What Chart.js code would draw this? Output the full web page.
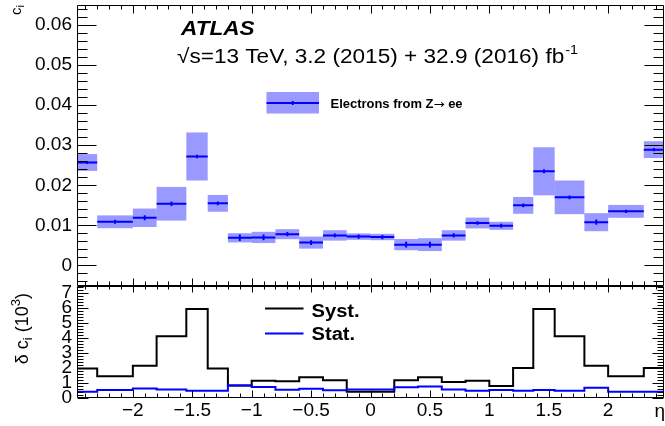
<!DOCTYPE html>
<html>
<head>
<meta charset="utf-8">
<script src="https://cdn.jsdelivr.net/npm/chart.js@4.4.0/dist/chart.umd.min.js"></script>
<style>
html, body { margin: 0; padding: 0; background: #fff; }
#wrap { position: relative; width: 665px; height: 426px; }
#wrap canvas { position: absolute; left: 0; top: 0; }
</style>
</head>
<body>
<div id="wrap">
  <canvas id="ratioChart" width="665" height="426"></canvas>
  <canvas id="mainChart" width="665" height="426"></canvas>
</div>
<script>
// eta bin edges
var etaEdges = [-2.47, -2.3, -2.0, -1.8, -1.55, -1.37, -1.2, -1.0, -0.8, -0.6, -0.4, -0.2, 0,
                0.2, 0.4, 0.6, 0.8, 1.0, 1.2, 1.37, 1.55, 1.8, 2.0, 2.3, 2.47];
// c_i per bin
var ciValues = [0.0257, 0.0109, 0.0119, 0.0154, 0.0272, 0.0155, 0.0069, 0.0070, 0.0078, 0.0057, 0.0075, 0.0072,
                0.0071, 0.0052, 0.0052, 0.0075, 0.0106, 0.0099, 0.0150, 0.0235, 0.0170, 0.0108, 0.0135, 0.0289];
// total uncertainty (band), in units of 1e-3
var ciTotErr = [2.1, 1.6, 2.3, 4.2, 6.0, 2.1, 1.15, 1.4, 1.25, 1.5, 1.3, 0.8,
                0.8, 1.4, 1.6, 1.3, 1.35, 1.0, 2.1, 6.0, 4.2, 2.25, 1.6, 2.1];
// lower panel, delta c_i (1e-3)
var systErr = [1.94, 1.43, 2.12, 4.1, 5.92, 1.94, 0.8, 1.13, 1.09, 1.35, 1.15, 0.38,
               0.38, 1.15, 1.35, 1.03, 1.12, 0.77, 1.97, 5.92, 4.1, 2.12, 1.43, 1.97];
var statErr = [0.39, 0.5, 0.61, 0.54, 0.46, 0.46, 0.8, 0.71, 0.52, 0.58, 0.49, 0.53,
               0.53, 0.69, 0.73, 0.54, 0.46, 0.5, 0.46, 0.5, 0.46, 0.66, 0.39, 0.39];

var etaTicks = [-2, -1.5, -1, -0.5, 0, 0.5, 1, 1.5, 2];
var etaTickLabels = ['\u22122', '\u22121.5', '\u22121', '\u22120.5', '0', '0.5', '1', '1.5', '2'];
var ciTicks = [0, 0.01, 0.02, 0.03, 0.04, 0.05, 0.06];
var ciTickLabels = ['0', '0.01', '0.02', '0.03', '0.04', '0.05', '0.06'];
var deltaTicks = [0, 1, 2, 3, 4, 5, 6, 7];
var deltaTickLabels = ['0', '1', '2', '3', '4', '5', '6', '7'];

var FONT = '"Liberation Sans", Arial, Helvetica, sans-serif';
var BLUE = '#0000ff';
var BAND = 'rgba(0,0,255,0.4)';

function tickList(min, max, step, majors) {
    var out = [];
    var n0 = Math.ceil(min / step - 1e-6), n1 = Math.floor(max / step + 1e-6);
    for (var k = n0; k <= n1; k++) {
        var v = +(k * step).toFixed(6);
        out.push({ v: v, major: majors.some(function(m) { return Math.abs(m - v) < 1e-6; }) });
    }
    return out;
}

function stretchText(ctx, txt, x, y, font, sx, color) {
    ctx.save();
    ctx.font = font;
    ctx.fillStyle = color || '#000';
    ctx.textAlign = 'left';
    ctx.textBaseline = 'alphabetic';
    ctx.translate(x, y);
    ctx.scale(sx, 1);
    ctx.fillText(txt, 0, 0);
    var w = ctx.measureText(txt).width * sx;
    ctx.restore();
    return w;
}

// rotated title made of pieces [text, size, shift]
function rotatedTitle(ctx, pieces, baseX, endY) {
    ctx.save();
    var total = 0;
    pieces.forEach(function(p) { ctx.font = p[1] + 'px ' + FONT; total += ctx.measureText(p[0]).width; });
    ctx.translate(baseX, endY + total);
    ctx.rotate(-Math.PI / 2);
    ctx.fillStyle = '#000';
    ctx.textBaseline = 'alphabetic';
    var x = 0;
    pieces.forEach(function(p) {
        ctx.font = p[1] + 'px ' + FONT;
        ctx.fillText(p[0], x, p[2]);
        x += ctx.measureText(p[0]).width;
    });
    ctx.restore();
}

// ROOT style frame with inward ticks on all sides
var rootFrame = {
    id: 'rootFrame',
    afterDraw: function(chart, args, o) {
        var ctx = chart.ctx, a = chart.chartArea, xs = chart.scales.x, ys = chart.scales.y;
        var L = Math.round(a.left) + 0.5, R = Math.round(a.right) - 0.5;
        var T = Math.round(a.top) + 0.5, B = Math.round(a.bottom) - 0.5;
        ctx.save();
        ctx.strokeStyle = '#000';
        ctx.lineWidth = 1;
        ctx.beginPath();
        o.xTicks.forEach(function(t) {
            var px = Math.round(xs.getPixelForValue(t.v)) + 0.5;
            var lt = t.major ? o.xTop[0] : o.xTop[1];
            var lb = t.major ? o.xBot[0] : o.xBot[1];
            ctx.moveTo(px, T); ctx.lineTo(px, T + lt);
            ctx.moveTo(px, B); ctx.lineTo(px, B - lb);
        });
        o.yTicks.forEach(function(t) {
            var py = Math.round(ys.getPixelForValue(t.v)) + 0.5;
            var len = t.major ? o.yLen[0] : o.yLen[1];
            ctx.moveTo(L, py); ctx.lineTo(L + len, py);
            ctx.moveTo(R, py); ctx.lineTo(R - len, py);
        });
        ctx.rect(L, T, R - L, B - T);
        ctx.stroke();
        ctx.restore();
    }
};

// total-uncertainty bands and stat error bars of the upper panel
var bandPlugin = {
    id: 'bands',
    beforeDatasetsDraw: function(chart) {
        var ctx = chart.ctx, xs = chart.scales.x, ys = chart.scales.y, a = chart.chartArea;
        ctx.save();
        ctx.beginPath();
        ctx.rect(a.left, a.top, a.right - a.left, a.bottom - a.top);
        ctx.clip();
        ctx.fillStyle = BAND;
        ciValues.forEach(function(v, i) {
            var x0 = xs.getPixelForValue(etaEdges[i]), x1 = xs.getPixelForValue(etaEdges[i + 1]);
            var y0 = ys.getPixelForValue(v + ciTotErr[i] * 1e-3), y1 = ys.getPixelForValue(v - ciTotErr[i] * 1e-3);
            ctx.fillRect(x0, y0, x1 - x0, y1 - y0);
        });
        ctx.restore();
    },
    afterDatasetsDraw: function(chart) {
        var ctx = chart.ctx, xs = chart.scales.x, ys = chart.scales.y;
        ctx.save();
        ctx.strokeStyle = BLUE;
        ctx.lineWidth = 2;
        ctx.beginPath();
        ciValues.forEach(function(v, i) {
            var xc = xs.getPixelForValue((etaEdges[i] + etaEdges[i + 1]) / 2);
            ctx.moveTo(xc, ys.getPixelForValue(v + statErr[i] * 1e-3));
            ctx.lineTo(xc, ys.getPixelForValue(v - statErr[i] * 1e-3));
        });
        ctx.stroke();
        ctx.restore();
    }
};

var mainText = {
    id: 'mainText',
    afterDraw: function(chart) {
        var ctx = chart.ctx;
        stretchText(ctx, 'ATLAS', 181, 35, 'bold italic 20px ' + FONT, 1.13);
        var w = stretchText(ctx, '\u221As=13 TeV, 3.2 (2015) + 32.9 (2016) fb', 177, 63, '20px ' + FONT, 1.13);
        stretchText(ctx, '-1', 177 + w + 1, 54, '13px ' + FONT, 1.1);
        // legend
        ctx.save();
        ctx.fillStyle = BAND;
        ctx.fillRect(266.5, 92, 52.5, 21.5);
        ctx.strokeStyle = BLUE;
        ctx.lineWidth = 2;
        ctx.beginPath();
        ctx.moveTo(266.5, 103); ctx.lineTo(319, 103);
        ctx.moveTo(292.75, 101); ctx.lineTo(292.75, 105);
        ctx.stroke();
        ctx.restore();
        var lx = 330.5;
        lx += stretchText(ctx, 'Electrons from Z', lx, 107.5, 'bold 12px ' + FONT, 1.08);
        lx += stretchText(ctx, '\u2192', lx, 107.5, '12px "DejaVu Sans", sans-serif', 1.1);
        stretchText(ctx, ' ee', lx, 107.5, 'bold 12px ' + FONT, 1.08);
        rotatedTitle(ctx, [['c', 15, 0], ['i', 11, 3]], 20.5, 5);
    }
};

var ratioText = {
    id: 'ratioText',
    afterDraw: function(chart) {
        var ctx = chart.ctx;
        ctx.save();
        ctx.lineWidth = 2;
        ctx.strokeStyle = '#000';
        ctx.beginPath(); ctx.moveTo(265, 308.5); ctx.lineTo(303.5, 308.5); ctx.stroke();
        ctx.strokeStyle = BLUE;
        ctx.beginPath(); ctx.moveTo(265, 333.5); ctx.lineTo(303.5, 333.5); ctx.stroke();
        ctx.restore();
        stretchText(ctx, 'Syst.', 311.5, 317, 'bold 18px ' + FONT, 1.12);
        stretchText(ctx, 'Stat.', 311.5, 339.5, 'bold 18px ' + FONT, 1.12);
        rotatedTitle(ctx, [['\u03B4 c', 18, 0], ['i', 13, 4], [' (10', 18, 0], ['3', 13, -8], [')', 18, 0]], 28, 293);
        ctx.save();
        ctx.font = '19px ' + FONT;
        ctx.fillStyle = '#000';
        ctx.textAlign = 'right';
        ctx.fillText('\u03B7', 665, 417);
        ctx.restore();
    }
};

function fixedTicks(values) {
    return function(s) { s.ticks = values.map(function(v) { return { value: v }; }); };
}
function noPad(size, horizontal) {
    return function(s) {
        if (horizontal) s.height = size; else s.width = size;
        s.paddingTop = 0; s.paddingBottom = 0; s.paddingLeft = 0; s.paddingRight = 0;
    };
}
function tickFont() {
    return { color: '#000', font: { family: FONT, size: 19 }, autoSkip: false, maxRotation: 0 };
}

// central values drawn as separate horizontal segments
var centralPts = [];
ciValues.forEach(function(v, i) {
    centralPts.push({ x: etaEdges[i], y: v }, { x: etaEdges[i + 1], y: v }, { x: etaEdges[i + 1], y: null });
});

var yTickOpts = tickFont();
yTickOpts.padding = 5;
yTickOpts.callback = function(v, i) { return ciTickLabels[i]; };

new Chart(document.getElementById('mainChart'), {
    type: 'line',
    data: {
        datasets: [{
            label: 'Electrons from Z\u2192 ee',
            data: centralPts,
            borderColor: BLUE,
            borderWidth: 2,
            pointRadius: 0,
            spanGaps: false,
            tension: 0
        }]
    },
    options: {
        responsive: false,
        animation: false,
        events: [],
        layout: { padding: { left: 0, right: 1, top: 5, bottom: 140.5 } },
        plugins: {
            legend: { display: false },
            tooltip: { enabled: false },
            rootFrame: {
                xTicks: tickList(-2.47, 2.47, 0.1, etaTicks),
                yTicks: tickList(-0.005, 0.065, 0.002, ciTicks),
                xTop: [8, 4], xBot: [7, 4], yLen: [19, 10]
            }
        },
        scales: {
            x: { type: 'linear', display: false, min: -2.47, max: 2.47 },
            y: {
                type: 'linear', min: -0.005, max: 0.065,
                afterBuildTicks: fixedTicks(ciTicks),
                afterFit: noPad(77, false),
                grid: { display: false, drawTicks: false },
                border: { display: false },
                ticks: yTickOpts
            }
        }
    },
    plugins: [bandPlugin, rootFrame, mainText]
});

// histogram points: value of bin i starts at edge i
function stepPoints(vals) {
    return etaEdges.map(function(e, i) { return { x: e, y: vals[Math.min(i, vals.length - 1)] }; });
}

var xTickOpts = tickFont();
xTickOpts.padding = 2;
xTickOpts.callback = function(v, i) { return etaTickLabels[i]; };
var dTickOpts = tickFont();
dTickOpts.padding = 5;
dTickOpts.callback = function(v, i) { return deltaTickLabels[i]; };

new Chart(document.getElementById('ratioChart'), {
    type: 'line',
    data: {
        datasets: [{
            label: 'Stat.',
            data: stepPoints(statErr),
            stepped: 'before',
            borderColor: BLUE,
            borderWidth: 2,
            pointRadius: 0,
            order: 0
        }, {
            label: 'Syst.',
            data: stepPoints(systErr),
            stepped: 'before',
            borderColor: '#000',
            borderWidth: 2,
            pointRadius: 0,
            order: 1
        }]
    },
    options: {
        responsive: false,
        animation: false,
        events: [],
        layout: { padding: { left: 0, right: 1, top: 285.5, bottom: 0 } },
        plugins: {
            legend: { display: false },
            tooltip: { enabled: false },
            rootFrame: {
                xTicks: tickList(-2.47, 2.47, 0.1, etaTicks),
                yTicks: tickList(0, 7.5, 0.2, deltaTicks),
                xTop: [6, 3], xBot: [7, 4], yLen: [11, 6]
            }
        },
        scales: {
            x: {
                type: 'linear', min: -2.47, max: 2.47,
                afterBuildTicks: fixedTicks(etaTicks),
                afterFit: noPad(28.5, true),
                grid: { display: false, drawTicks: false },
                border: { display: false },
                ticks: xTickOpts
            },
            y: {
                type: 'linear', min: 0, max: 7.5,
                afterBuildTicks: fixedTicks(deltaTicks),
                afterFit: noPad(77, false),
                grid: { display: false, drawTicks: false },
                border: { display: false },
                ticks: dTickOpts
            }
        }
    },
    plugins: [rootFrame, ratioText]
});
</script>
</body>
</html>
